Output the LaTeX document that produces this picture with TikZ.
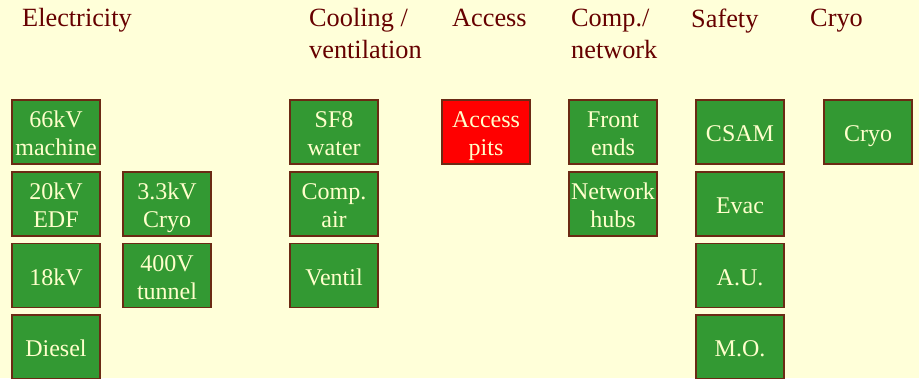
\documentclass[tikz,border=0pt]{standalone}
\usepackage{fontspec}
\setmainfont{Liberation Serif}
\definecolor{bgc}{HTML}{FFFFD9}
\definecolor{boxg}{HTML}{339933}
\definecolor{boxr}{HTML}{FF0000}
\definecolor{edgec}{HTML}{6B2A14}
\definecolor{txtc}{HTML}{FFFFCC}
\definecolor{headc}{HTML}{660000}
\newcommand{\fs}{\rule{0pt}{24bp}}
\tikzset{
  hdr/.style={anchor=north west, inner sep=0pt, align=left, text=headc,
    font=\fontsize{26.3bp}{32bp}\selectfont},
  tile/.style={draw=edgec, line width=1.2bp, fill=boxg, text=txtc,
    minimum width=88bp, minimum height=64bp, inner sep=0pt, align=center,
    font=\fontsize{24bp}{28bp}\selectfont,
    execute at begin node={\rule{0pt}{24bp}},
    execute at end node={\rule[-5bp]{0pt}{0pt}}},
  redtile/.style={tile, fill=boxr}
}
\begin{document}
\begin{tikzpicture}[x=1bp,y=-1bp]
\fill[bgc] (0,0) rectangle (919,378);
\useasboundingbox (0,0) rectangle (919,378);
\clip (0,0) rectangle (919,378);
% headers
\node[hdr] (hElec) at (22,8.5) {Electricity};
\node[hdr] (hCool) at (309,8.5) {Cooling /\\ventilation};
\node[hdr] (hAcc) at (452,8.5) {Access};
\node[hdr] (hComp) at (571,8.5) {Comp./\\network};
\node[hdr] (hSaf) at (691,8.5) {Safety};
\node[hdr] (hCryo) at (810,8.5) {Cryo};
% electricity
\node[tile] (e66) at (56,132) {\fs 66kV\\machine};
\node[tile] (e20) at (56,204) {\fs 20kV\\EDF};
\node[tile] (e18) at (56,275.5) {18kV};
\node[tile] (eDie) at (56,347) {Diesel};
\node[tile] (e33) at (167,204) {\fs 3.3kV\\Cryo};
\node[tile] (e400) at (167,275.5) {\fs 400V\\tunnel};
% cooling
\node[tile] (cSF) at (334,132) {\fs SF8\\water};
\node[tile] (cAir) at (334,204) {\fs Comp.\\air};
\node[tile] (cVen) at (334,275.5) {Ventil};
% access
\node[redtile] (aPits) at (486,132) {\fs Access\\pits};
% comp/network
\node[tile] (nFront) at (613,132) {\fs Front\\ends};
\node[tile] (nHubs) at (613,204) {\fs Network\\hubs};
% safety
\node[tile] (sCSAM) at (740,132) {CSAM};
\node[tile] (sEvac) at (740,204) {Evac};
\node[tile] (sAU) at (740,275.5) {A.U.};
\node[tile] (sMO) at (740,347) {M.O.};
% cryo
\node[tile] (cCryo) at (868,132) {Cryo};
\end{tikzpicture}
\end{document}
